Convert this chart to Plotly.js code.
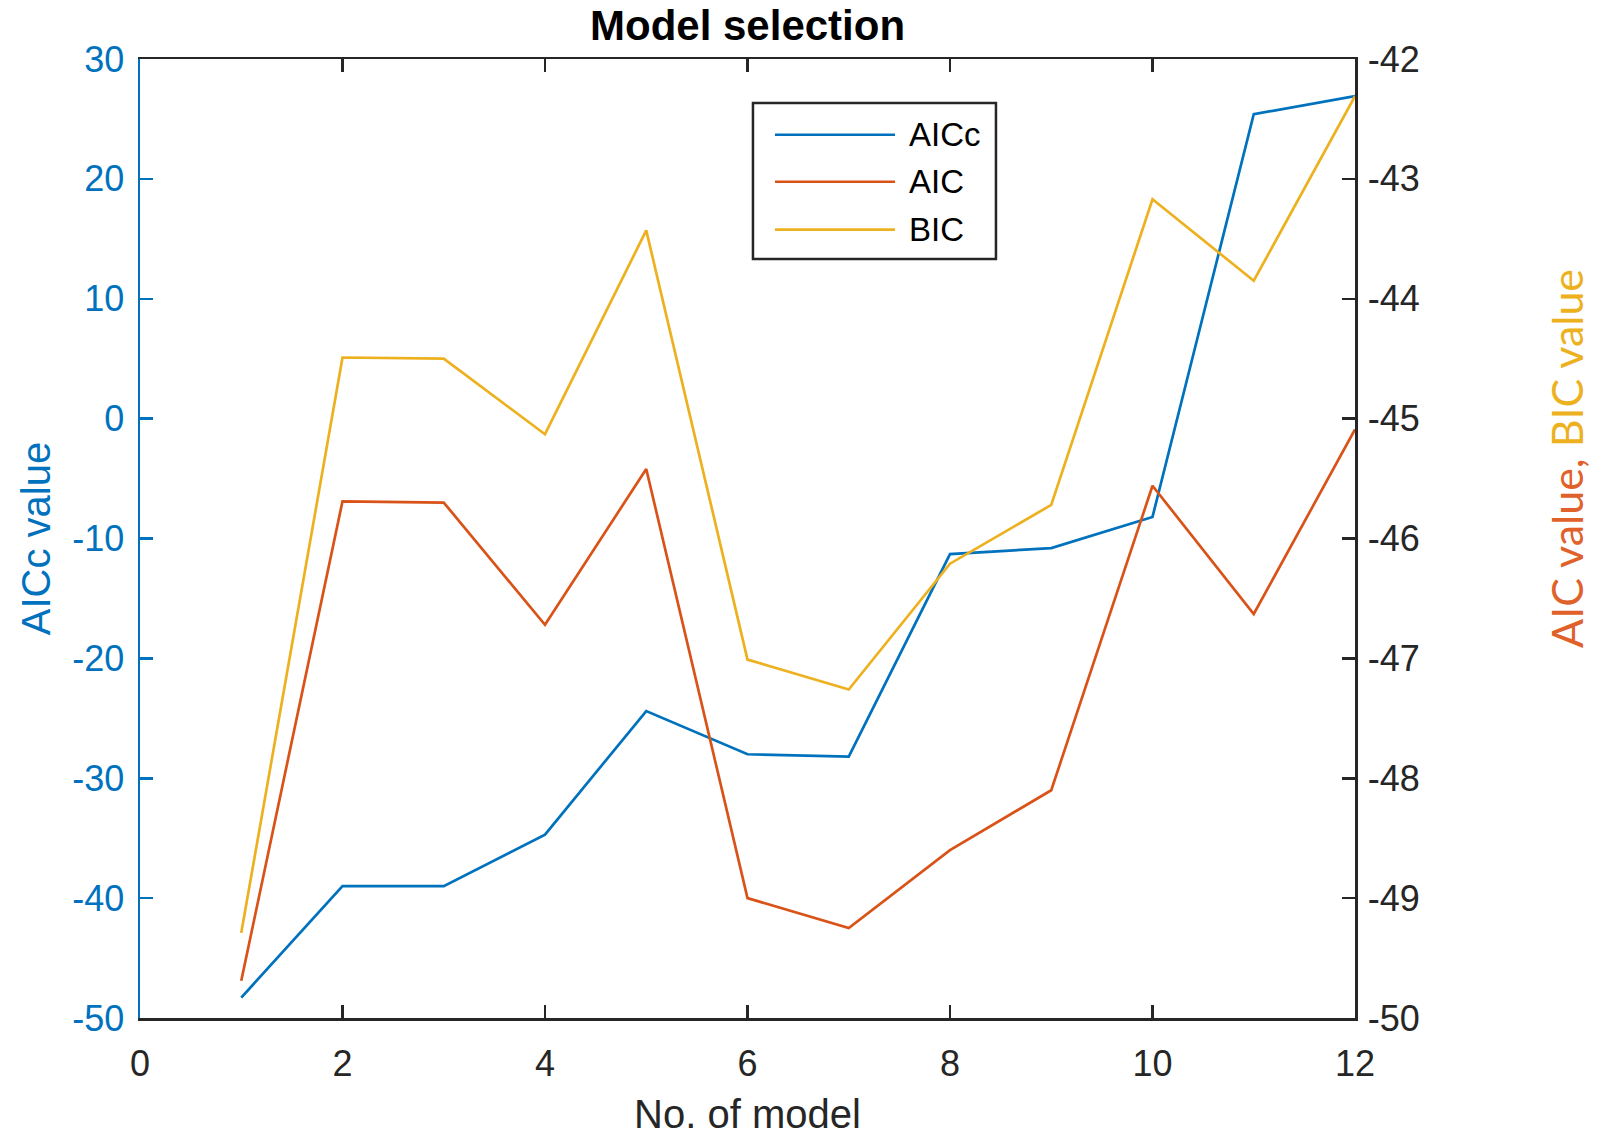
<!DOCTYPE html>
<html>
<head>
<meta charset="utf-8">
<script src="https://cdn.plot.ly/plotly-3.0.1.min.js"></script>
<style>
  html, body { margin: 0; padding: 0; background: #ffffff; }
  #chart { width: 1599px; height: 1140px; }
</style>
</head>
<body>
<div id="chart"></div>
<script>
// Model numbers on the x axis
const modelNo = [1, 2, 3, 4, 5, 6, 7, 8, 9, 10, 11, 12];

// Information criteria for each model
const aiccValues = [-48.3, -39.0, -39.0, -34.7, -24.4, -28.0, -28.2, -11.3, -10.8, -8.2, 25.4, 26.9];
const aicValues  = [-49.69, -45.69, -45.70, -46.72, -45.42, -49.00, -49.25, -48.60, -48.10, -45.56, -46.63, -45.09];
const bicValues  = [-49.29, -44.49, -44.50, -45.13, -43.43, -47.01, -47.26, -46.21, -45.72, -43.17, -43.85, -42.31];

// Series names and tick values
const seriesNames = ['AICc', 'AIC', 'BIC'];
const xTicks = [0, 2, 4, 6, 8, 10, 12];
const leftTicks = [-50, -40, -30, -20, -10, 0, 10, 20, 30];
const rightTicks = [-50, -49, -48, -47, -46, -45, -44, -43, -42];

const BLUE = '#0072BD';
const ORANGE = '#D95319';
const YELLOW = '#EDB120';
const DARK = '#262626';
const FONT = 'Liberation Sans, Arial, sans-serif';
const LW = 2.7;

const traces = [
  { x: modelNo, y: aiccValues, name: seriesNames[0], type: 'scatter', mode: 'lines',
    line: { color: BLUE, width: LW }, yaxis: 'y' },
  { x: modelNo, y: aicValues, name: seriesNames[1], type: 'scatter', mode: 'lines',
    line: { color: ORANGE, width: LW }, yaxis: 'y2' },
  { x: modelNo, y: bicValues, name: seriesNames[2], type: 'scatter', mode: 'lines',
    line: { color: YELLOW, width: LW }, yaxis: 'y2' }
];

// Boxed legend with long sample lines
const legendColors = [BLUE, ORANGE, YELLOW];
const legendRows = [0.921, 0.872, 0.822];
const shapes = [
  { type: 'rect', xref: 'paper', yref: 'paper', x0: 0.5045, x1: 0.7045, y0: 0.7915, y1: 0.9541,
    line: { color: DARK, width: 2.5 }, fillcolor: '#ffffff', layer: 'above' }
];
const annotations = [];
seriesNames.forEach((name, i) => {
  shapes.push({ type: 'line', xref: 'paper', yref: 'paper', x0: 0.5226, x1: 0.6214,
    y0: legendRows[i], y1: legendRows[i], line: { color: legendColors[i], width: LW }, layer: 'above' });
  annotations.push({ xref: 'paper', yref: 'paper', x: 0.631, y: legendRows[i], xanchor: 'left', yanchor: 'middle',
    text: name, showarrow: false, font: { family: FONT, size: 33, color: '#000000' } });
});

// Two-coloured title of the right-hand axis
annotations.push({
  xref: 'paper', yref: 'paper', x: 1.1745, y: 0.583, xanchor: 'center', yanchor: 'middle',
  textangle: -90, showarrow: false,
  text: '<span style="color:#E0622A">AIC value, </span><span style="color:#EDB120">BIC value</span>',
  font: { family: 'Lato, Open Sans, sans-serif', size: 43, color: ORANGE }
});

const layout = {
  width: 1599,
  height: 1140,
  paper_bgcolor: '#ffffff',
  plot_bgcolor: '#ffffff',
  showlegend: false,
  margin: { l: 140, r: 244, t: 59, b: 122 },
  title: {
    text: '<b>Model selection</b>',
    font: { family: FONT, size: 42, color: '#000000' },
    x: 0.4675, xanchor: 'center', y: 0.978, yanchor: 'middle'
  },
  xaxis: {
    range: [0, 12],
    tickvals: xTicks,
    ticktext: xTicks.map(String),
    ticks: 'inside', ticklen: 13, tickwidth: 2.5, tickcolor: DARK,
    showline: true, linecolor: DARK, linewidth: 2.5, mirror: 'ticks',
    showgrid: false, zeroline: false, automargin: false,
    ticklabelstandoff: 12,
    tickfont: { family: FONT, size: 36, color: DARK },
    title: { text: 'No. of model', font: { family: FONT, size: 40, color: DARK }, standoff: 18 }
  },
  yaxis: {
    range: [-50, 30],
    tickvals: leftTicks,
    ticktext: leftTicks.map(String),
    ticks: 'inside', ticklen: 13, tickwidth: 2.5, tickcolor: BLUE,
    showline: true, linecolor: BLUE, linewidth: 2.5,
    showgrid: false, zeroline: false, automargin: false,
    ticklabelstandoff: 6,
    tickfont: { family: FONT, size: 36, color: BLUE },
    title: { text: 'AICc value', font: { family: FONT, size: 40, color: BLUE }, standoff: 10 }
  },
  yaxis2: {
    range: [-50, -42],
    overlaying: 'y', side: 'right',
    tickvals: rightTicks,
    ticktext: rightTicks.map(String),
    ticks: 'inside', ticklen: 13, tickwidth: 2.5, tickcolor: DARK,
    showline: true, linecolor: DARK, linewidth: 2.5,
    showgrid: false, zeroline: false, automargin: false,
    ticklabelstandoff: 3,
    tickfont: { family: FONT, size: 36, color: DARK }
  },
  shapes: shapes,
  annotations: annotations
};

Plotly.newPlot('chart', traces, layout, { displayModeBar: false, staticPlot: true });
</script>
</body>
</html>
